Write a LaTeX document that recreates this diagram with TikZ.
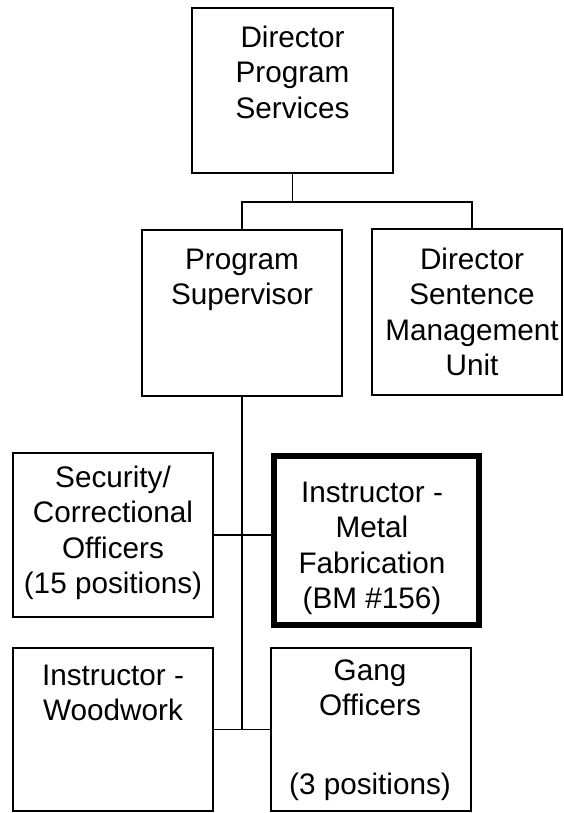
\documentclass[tikz,border=0pt]{standalone}
\usepackage{fontspec}
\setmainfont{Liberation Sans}
\begin{document}
\begin{tikzpicture}[x=1pt,y=-1pt,
  box/.style={draw,line width=1.8pt,inner sep=0pt,minimum width=200pt},
  thickbox/.style={box,line width=6pt},
  lbl/.style={anchor=north,inner sep=0pt,align=center,font=\fontsize{29.7}{35.5}\selectfont},
  conn/.style={line width=1.8pt}]
\useasboundingbox (0,0) rectangle (564,813);
\newcommand{\fl}{\rule{0pt}{22pt}}
% boxes
\node[box,minimum width=201pt,minimum height=165pt] (b1) at (292.5,90.5) {};
\node[box,minimum height=166pt] (b2) at (242,313) {};
\node[box,minimum width=190pt,minimum height=166pt] (b3) at (467,312) {};
\node[box,minimum height=164pt] (b4) at (113,535) {};
\node[thickbox,minimum width=205pt,minimum height=169pt] (b5) at (376.5,540.5) {};
\node[box,minimum height=163pt] (b6) at (113,729.5) {};
\node[box,minimum height=163pt] (b7) at (371,729.5) {};
% texts
\node[lbl] (t1) at (292.5,25) {\fl Director\\Program\\Services};
\node[lbl] (t2) at (242,247) {\fl Program\\Supervisor};
\node[lbl] (t3) at (472,247) {\fl Director\\Sentence\\Management\\Unit};
\node[lbl] (t4) at (113,465) {\fl Security/\\Correctional\\Officers\\(15 positions)};
\node[lbl] (t5) at (372,480) {\fl Instructor -\\Metal\\Fabrication\\(BM \#156)};
\node[lbl] (t6) at (113,663) {\fl Instructor -\\Woodwork};
\node[lbl] (t7) at (370,658) {\fl Gang\\Officers\\[43.5pt](3 positions)};
% connectors
\coordinate (h) at (0,202);
\coordinate (hl) at (b2.north |- h);
\coordinate (hr) at (472,202);
\draw[conn] (b1.south) -- (b1.south |- h);
\draw[conn] (b2.north) -- (hl) -- (hr) -- (hr |- b3.north);
\draw[conn] (b2.south) -- (b2.south |- b6.east);
\draw[conn] (b4.east) -- (b4.east -| b5.west);
\draw[conn] (b6.east) -- (b7.west);
\end{tikzpicture}
\end{document}
